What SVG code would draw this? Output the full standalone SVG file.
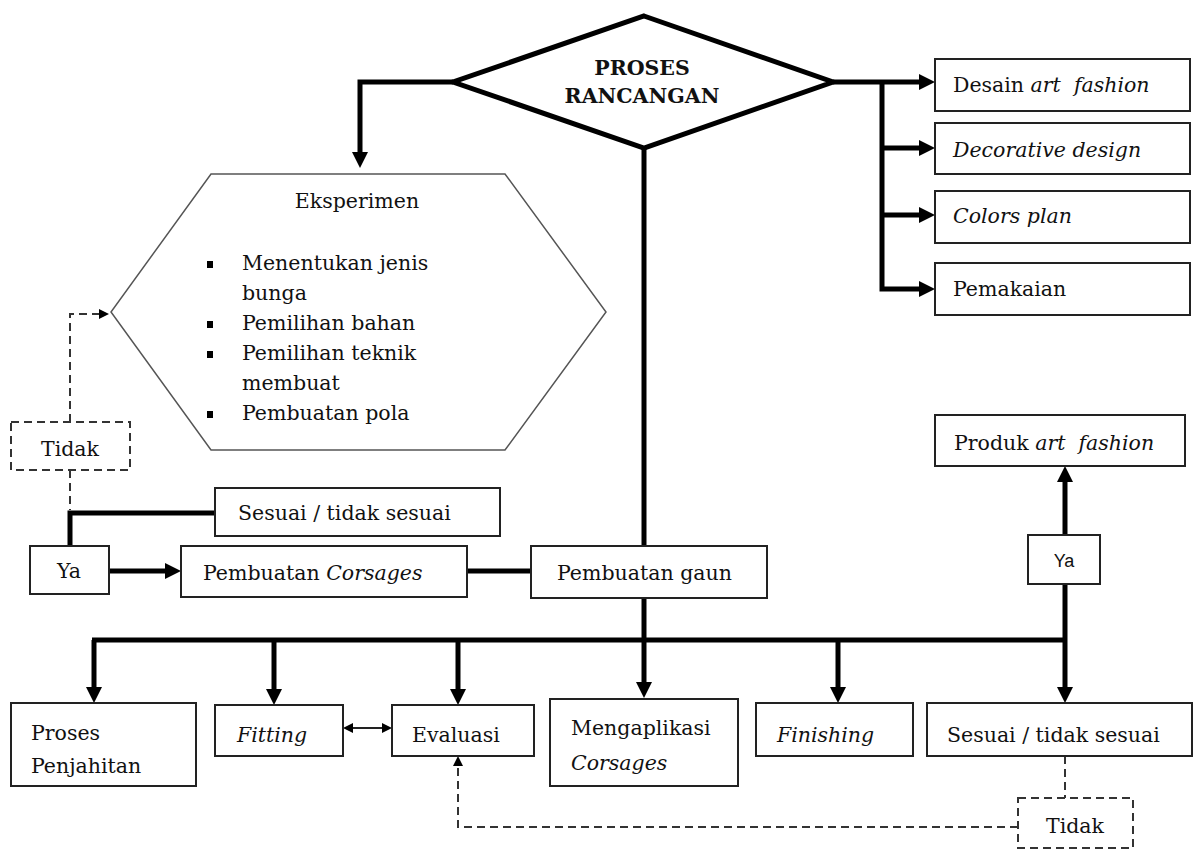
<svg xmlns="http://www.w3.org/2000/svg" width="1194" height="850" viewBox="0 0 1194 850">
<defs>
<style>
.box{fill:#fff;stroke:#222;stroke-width:2}
.dbox{fill:#fff;stroke:#333;stroke-width:2;stroke-dasharray:8 5}
.t{font-family:"DejaVu Serif","Liberation Serif",serif;font-size:20.5px;fill:#111}
.i{font-style:italic}
.b{font-weight:bold}
.thick{fill:none;stroke:#000;stroke-width:5}
.dash{fill:none;stroke:#333;stroke-width:2;stroke-dasharray:8 5}
.thin{fill:none;stroke:#222;stroke-width:2}
</style>
<marker id="ah" viewBox="0 0 16 16" refX="4" refY="8" markerWidth="16" markerHeight="16" markerUnits="userSpaceOnUse" orient="auto"><path d="M0,0 L16,8 L0,16 z" fill="#000"/></marker>
<marker id="ahs" viewBox="0 0 10 10" refX="2" refY="5" markerWidth="10" markerHeight="10" markerUnits="userSpaceOnUse" orient="auto-start-reverse"><path d="M0,0 L10,5 L0,10 z" fill="#000"/></marker>
</defs>
<rect width="1194" height="850" fill="#fff"/>

<g id="connectors">
<path class="thick" d="M453,82 H360 V156" marker-end="url(#ah)"/>
<path class="thick" d="M833,82 H923" marker-end="url(#ah)"/>
<path class="thick" d="M882,82 V289 H923" marker-end="url(#ah)"/>
<path class="thick" d="M882,148 H923" marker-end="url(#ah)"/>
<path class="thick" d="M882,215 H923" marker-end="url(#ah)"/>
<path class="thick" d="M644,148 V546"/>
<path class="thick" d="M70,546 V513 H215"/>
<path class="dash" d="M70,470 V510"/>
<path class="dash" d="M70,422 V314 H101" marker-end="url(#ahs)"/>
<path class="thick" d="M109,571 H169" marker-end="url(#ah)"/>
<path class="thick" d="M467,571 H531"/>
<path class="thick" d="M644,598 V686" marker-end="url(#ah)"/>
<path class="thick" d="M92,640 H1067"/>
<path class="thick" d="M94,640 V691" marker-end="url(#ah)"/>
<path class="thick" d="M274,640 V693" marker-end="url(#ah)"/>
<path class="thick" d="M458,640 V693" marker-end="url(#ah)"/>
<path class="thick" d="M838,640 V691" marker-end="url(#ah)"/>
<path class="thick" d="M1065,640 V691" marker-end="url(#ah)"/>
<path class="thick" d="M1065,640 V584"/>
<path class="thick" d="M1065,535 V478" marker-end="url(#ah)"/>
<path class="thin" d="M351,728 H384" marker-start="url(#ahs)" marker-end="url(#ahs)"/>
<path class="dash" d="M1065,756 V798"/>
<path class="dash" d="M1018,827 H458 V764" marker-end="url(#ahs)"/>
</g>

<g id="n-proses">
<polygon points="644,16 833,82 644,148 453,82" fill="#fff" stroke="#000" stroke-width="5"/>
<text class="t b" x="642" y="75" text-anchor="middle">PROSES</text>
<text class="t b" x="642" y="103" text-anchor="middle">RANCANGAN</text>
</g>

<g id="n-eksperimen">
<polygon points="211,174 505,174 606,312 505,450 211,450 111,312" fill="#fff" stroke="#555" stroke-width="1.5"/>
<text class="t" x="357" y="208" text-anchor="middle">Eksperimen</text>
<rect x="207" y="261" width="6" height="7" fill="#000"/>
<rect x="207" y="321" width="6" height="7" fill="#000"/>
<rect x="207" y="351" width="6" height="7" fill="#000"/>
<rect x="207" y="411" width="6" height="7" fill="#000"/>
<text class="t" x="242" y="270">Menentukan jenis</text>
<text class="t" x="242" y="300">bunga</text>
<text class="t" x="242" y="330">Pemilihan bahan</text>
<text class="t" x="242" y="360">Pemilihan teknik</text>
<text class="t" x="242" y="390">membuat</text>
<text class="t" x="242" y="420">Pembuatan pola</text>
</g>

<g id="n-desain">
<rect class="box" x="935" y="59" width="255" height="52"/>
<text class="t" x="953" y="92">Desain <tspan class="i">art&#160; fashion</tspan></text>
</g>
<g id="n-decorative">
<rect class="box" x="935" y="123" width="255" height="51"/>
<text class="t i" x="953" y="157">Decorative design</text>
</g>
<g id="n-colors">
<rect class="box" x="935" y="191" width="255" height="52"/>
<text class="t i" x="953" y="223">Colors plan</text>
</g>
<g id="n-pemakaian">
<rect class="box" x="935" y="263" width="255" height="52"/>
<text class="t" x="953" y="296">Pemakaian</text>
</g>

<g id="n-tidak-left">
<rect class="dbox" x="11" y="422" width="119" height="48"/>
<text class="t" x="70" y="456" text-anchor="middle">Tidak</text>
</g>
<g id="n-sesuai-top">
<rect class="box" x="215" y="488" width="285" height="48"/>
<text class="t" x="238" y="520">Sesuai / tidak sesuai</text>
</g>
<g id="n-ya-left">
<rect class="box" x="30" y="546" width="79" height="48"/>
<text class="t" x="69" y="578" text-anchor="middle">Ya</text>
</g>
<g id="n-corsages">
<rect class="box" x="181" y="546" width="286" height="51"/>
<text class="t" x="203" y="580">Pembuatan <tspan class="i">Corsages</tspan></text>
</g>
<g id="n-gaun">
<rect class="box" x="531" y="546" width="236" height="52"/>
<text class="t" x="557" y="580">Pembuatan gaun</text>
</g>

<g id="n-produk">
<rect class="box" x="935" y="415" width="250" height="51"/>
<text class="t" x="954" y="450">Produk <tspan class="i">art&#160; fashion</tspan></text>
</g>
<g id="n-ya-right">
<rect class="box" x="1028" y="535" width="72" height="49"/>
<text x="1064" y="567" text-anchor="middle" font-family="'Liberation Sans',Arial,sans-serif" font-size="18" fill="#111">Ya</text>
</g>

<g id="n-penjahitan">
<rect class="box" x="11" y="703" width="185" height="83"/>
<text class="t" x="31" y="740">Proses</text>
<text class="t" x="31" y="773">Penjahitan</text>
</g>
<g id="n-fitting">
<rect class="box" x="215" y="705" width="128" height="51"/>
<text class="t i" x="237" y="742">Fitting</text>
</g>
<g id="n-evaluasi">
<rect class="box" x="392" y="705" width="142" height="51"/>
<text class="t" x="412" y="742">Evaluasi</text>
</g>
<g id="n-mengaplikasi">
<rect class="box" x="550" y="699" width="188" height="87"/>
<text class="t" x="571" y="735">Mengaplikasi</text>
<text class="t i" x="571" y="770">Corsages</text>
</g>
<g id="n-finishing">
<rect class="box" x="756" y="703" width="157" height="53"/>
<text class="t i" x="777" y="742">Finishing</text>
</g>
<g id="n-sesuai-bottom">
<rect class="box" x="927" y="703" width="265" height="53"/>
<text class="t" x="947" y="742">Sesuai / tidak sesuai</text>
</g>
<g id="n-tidak-bottom">
<rect class="dbox" x="1018" y="798" width="115" height="50"/>
<text class="t" x="1075" y="833" text-anchor="middle">Tidak</text>
</g>
</svg>
